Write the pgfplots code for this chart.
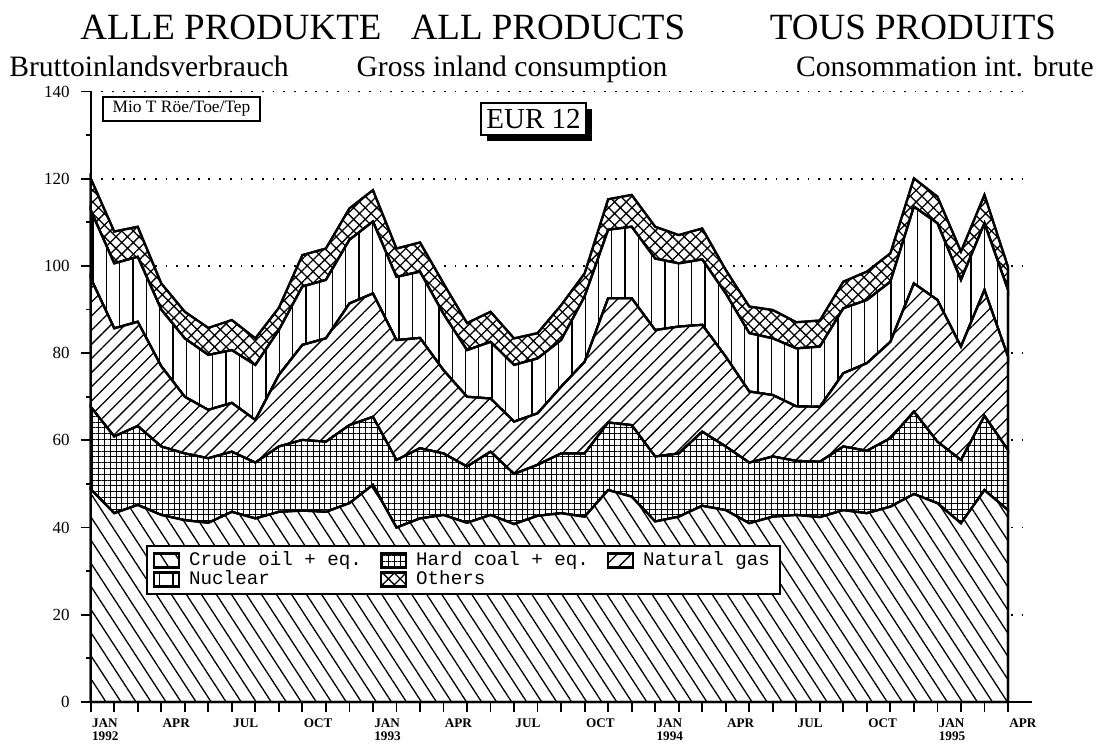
\documentclass[border=0pt]{standalone}
\usepackage{fontspec}
\setmainfont{Liberation Serif}
\newfontfamily\monofont{Liberation Mono}
\usepackage{pgfplots}
\pgfplotsset{compat=1.18}
\usepackage{pgfplotstable}
\usetikzlibrary{patterns.meta,shadows}

\pgfplotstableread{
m oil coal gas nuc oth
0 48.8 18.9 29.5 15.6 7.3
1 43.3 17.6 24.8 14.9 7.3
2 45.2 18.1 23.9 14.9 6.9
3 42.9 15.7 18.4 13.0 6.0
4 41.7 15.3 13.0 13.4 6.1
5 41.1 14.8 11.1 12.6 6.2
6 43.6 13.8 11.2 12.1 6.9
7 42.1 12.8 9.8 12.6 6.1
8 43.6 15.0 16.4 10.3 5.1
9 43.9 16.2 21.8 13.4 7.2
10 43.6 16.1 23.7 13.4 7.2
11 45.6 17.9 27.9 14.6 7.2
12 49.8 15.6 28.3 16.5 7.2
13 40.0 15.5 27.5 14.5 6.5
14 42.1 16.1 25.3 15.2 6.7
15 42.9 14.1 19.1 12.9 7.0
16 41.1 12.9 16.0 10.7 6.2
17 42.9 14.5 12.2 13.0 6.9
18 40.8 11.5 12.0 13.0 6.1
19 42.7 11.7 11.8 12.6 5.8
20 43.3 13.7 15.3 10.7 8.0
21 42.5 14.5 21.0 15.0 5.3
22 48.6 15.5 28.5 15.7 7.0
23 47.1 16.4 29.1 16.4 7.3
24 41.4 14.9 29.0 16.4 7.3
25 42.5 14.5 29.1 14.5 6.5
26 45.0 17.0 24.5 15.0 7.1
27 44.0 14.6 20.6 14.5 5.4
28 41.0 13.9 16.3 13.4 6.1
29 42.5 13.8 14.1 13.0 6.5
30 42.9 12.4 12.5 13.3 6.0
31 42.4 12.7 12.6 13.8 6.0
32 44.0 14.6 16.8 14.9 6.1
33 43.3 14.3 20.1 14.5 6.5
34 44.8 15.7 22.1 13.8 6.5
35 47.7 18.9 29.4 17.6 6.5
36 45.6 14.1 32.5 17.6 6.1
37 41.0 14.5 26.0 15.3 6.5
38 48.6 17.0 28.9 15.3 6.5
39 44.0 13.8 21.4 15.3 5.3
}\datatable

\begin{document}
\begin{tikzpicture}[x=0.5pt,y=0.5pt]
\useasboundingbox (-90.7,-45) rectangle (1027.3,702);
\begin{axis}[
  at={(0,0)}, anchor=south west,
  scale only axis, width=470.4pt, height=305.2pt,
  xmin=0, xmax=40, ymin=0, ymax=140,
  axis x line*=bottom, axis y line*=left,
  axis line style={line width=1pt,-},
  xtick={0,...,39},
  xticklabels={{JAN\\1992},{},{},APR,{},{},JUL,{},{},OCT,{},{},{JAN\\1993},{},{},APR,{},{},JUL,{},{},OCT,{},{},{JAN\\1994},{},{},APR,{},{},JUL,{},{},OCT,{},{},{JAN\\1995},{},{},APR},
  xticklabel style={anchor=north west, align=left, font=\bfseries\fontsize{6.6}{6.6}\selectfont, inner xsep=0pt, xshift=0.5pt},
  ytick={0,20,...,140}, minor ytick={10,30,...,130},
  yticklabel style={font=\fontsize{8.5}{9}\selectfont, xshift=-2pt},
  /pgf/number format/assume math mode=true,
  tick align=outside, major tick length=5pt, minor tick length=2.5pt,
  tick style={line width=0.9pt, black},
  ymajorgrids,
  major grid style={line width=0.9pt, dash pattern=on 0.9pt off 4.45pt, black},
  clip=false,
  stack plots=y,
  legend columns=3,
  legend cell align=left,
  legend style={at={(axis cs:2.35,36.0)}, anchor=north west, draw=black, line width=1pt, fill=white,
    font=\monofont\fontsize{9.6}{10}\selectfont, inner xsep=3pt, inner ysep=1pt, row sep=-3pt,
    /tikz/every odd column/.append style={column sep=2.5pt},
    /tikz/every even column/.append style={column sep=7pt}},
  legend image code/.code={\draw[#1] (0pt,-3.5pt) rectangle (12.5pt,3.5pt);},
]
\addplot[draw=black, line width=1.1pt, fill=white, postaction={pattern={Lines[angle=-57, distance=6.3pt, line width=0.65pt]}}]
  table[x=m, y=oil] {\datatable} \closedcycle;
\addlegendentry{Crude oil + eq.}
\addplot[draw=black, line width=1.1pt, fill=white, postaction={pattern={Hatch[angle=0, distance=2.9pt, line width=0.5pt]}}]
  table[x=m, y=coal] {\datatable} \closedcycle;
\addlegendentry{Hard coal + eq.}
\addplot[draw=black, line width=1.1pt, fill=white, postaction={pattern={Lines[angle=45, distance=5pt, line width=0.65pt]}}]
  table[x=m, y=gas] {\datatable} \closedcycle;
\addlegendentry{Natural gas}
\addplot[draw=black, line width=1.1pt, fill=white, postaction={pattern={Lines[angle=90, distance=6.65pt, line width=0.65pt]}}]
  table[x=m, y=nuc] {\datatable} \closedcycle;
\addlegendentry{Nuclear}
\addplot[draw=black, line width=1.1pt, fill=white, postaction={pattern={Hatch[angle=45, distance=4.1pt, line width=0.65pt]}}]
  table[x=m, y=oth] {\datatable} \closedcycle;
\addlegendentry{Others}
\draw[line width=1pt] (axis cs:0,0) -- (axis cs:0,140);
\draw[line width=1pt] (axis cs:0,0) -- (axis cs:40,0);
\end{axis}
\node[anchor=base, font=\fontsize{18.5}{20}\selectfont] at (140.3,662) {ALLE PRODUKTE};
\node[anchor=base, font=\fontsize{18.5}{20}\selectfont] at (457.3,662) {ALL PRODUCTS};
\node[anchor=base, font=\fontsize{18.5}{20}\selectfont] at (822.3,662) {TOUS PRODUITS};
\node[anchor=base, font=\fontsize{14.8}{16}\selectfont] at (58.3,625) {Bruttoinlandsverbrauch};
\node[anchor=base, font=\fontsize{14.8}{16}\selectfont] at (421.3,625) {Gross inland consumption};
\node[anchor=base, font=\fontsize{14.8}{16}\selectfont] at (854.3,625) {Consommation int. brute};
\node[draw, line width=0.8pt, fill=white, minimum width=78.5pt, minimum height=12pt, inner sep=0pt, font=\fontsize{8.7}{9}\selectfont] at (90.8,593) {Mio T Röe/Toe/Tep};
\node[draw, line width=1pt, fill=white, minimum width=52.5pt, minimum height=16pt, inner sep=0pt, font=\fontsize{14.5}{15}\selectfont, drop shadow={shadow xshift=3pt, shadow yshift=-3pt, fill=black, opacity=1}] at (442.8,583) {EUR 12};
\end{tikzpicture}
\end{document}
